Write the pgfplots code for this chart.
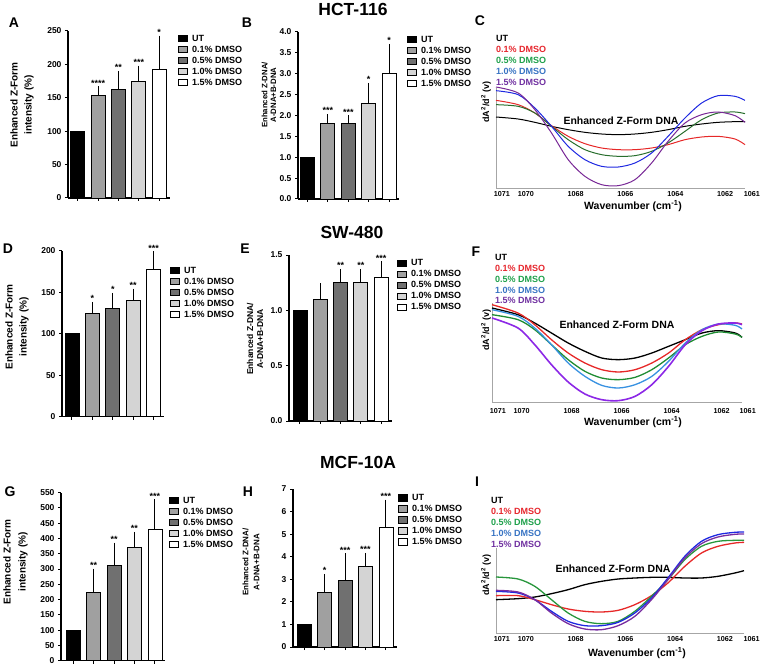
\documentclass[border=0pt]{standalone}
\usepackage{fontspec}
\setmainfont{Liberation Sans}
\usepackage{pgfplots}
\pgfplotsset{compat=1.18}

\definecolor{cA}{RGB}{160,160,160}
\definecolor{cB}{RGB}{112,112,112}
\definecolor{cC}{RGB}{212,212,212}
\definecolor{tred}{RGB}{230,38,45}
\definecolor{tgreen}{RGB}{30,160,75}
\definecolor{tblue}{RGB}{55,115,195}
\definecolor{tpurple}{RGB}{112,48,160}
\definecolor{sred}{RGB}{230,40,40}
\definecolor{sgreenC}{RGB}{40,110,45}
\definecolor{sblueC}{RGB}{30,40,225}
\definecolor{spurpleC}{RGB}{120,40,150}
\definecolor{sgreenF}{RGB}{30,140,50}
\definecolor{sblueF}{RGB}{55,145,225}
\definecolor{spurpleF}{RGB}{140,40,230}
\definecolor{sgreenI}{RGB}{40,150,60}
\definecolor{spurpleI}{RGB}{120,45,160}

\pgfplotsset{
  barax/.style={
    scale only axis, clip=false,
    axis x line*=bottom, axis y line*=left,
    axis line style={black,line width=1.1pt,-},
    tick align=outside, major tick length=3pt,
    tick style={black,line width=1pt},
    xtick={0,1,2,3,4}, xticklabels={},
    ymin=0,
    tick label style={font=\fontsize{8.5}{9}\selectfont\bfseries},
    /pgf/number format/assume math mode=true,
    legend cell align=left,
    legend style={draw=none, fill=none, anchor=north west, inner sep=0pt, outer sep=0pt,
      font=\fontsize{9}{10}\selectfont\bfseries, row sep=0.8pt, column sep=3.5pt,
      nodes={inner sep=0.8pt, text height=6.8pt, text depth=1.8pt}},
  },
  bar/.style={ybar, bar width=14pt, bar shift=0pt, draw=black, line width=0.9pt, fill=#1,
    legend image code/.code={\draw[black,line width=0.8pt,fill=#1] (0pt,-3pt) rectangle (9pt,3.5pt);},
    error bars/y dir=plus, error bars/y explicit,
    error bars/error bar style={black,line width=1pt},
    error bars/error mark options={black,line width=1pt,mark size=3.5pt}},
  specax/.style={
    scale only axis, clip=false,
    axis x line*=bottom, axis y line*=left,
    axis line style={black!35,line width=0.8pt,-},
    x dir=reverse, ymin=0, ytick=\empty,
    major tick length=0pt,
    tick label style={font=\fontsize{7.2}{8}\selectfont\bfseries},
    every axis plot/.append style={smooth, line width=1pt, no marks},
  },
}
\newcommand{\sig}[3]{\node[font=\fontsize{9}{9}\selectfont\bfseries, anchor=south, inner sep=0pt, yshift=3.5pt] at (axis cs:#1,#2) {#3};}
\newcommand{\lab}{\fontsize{14}{14}\selectfont\bfseries}

\begin{document}
\begin{tikzpicture}
\path[use as bounding box] (0pt,0pt) rectangle (760pt,665pt);

% ---------------- A ----------------
\begin{axis}[barax, at={(68pt,467pt)}, anchor=south west, width=102pt, height=167pt,
  xmin=-0.49, xmax=4.54, ymax=250, ytick={0,50,...,250},
  legend style={at={(axis description cs:1.078,0.984)}}]
\addplot[bar=black, error bars/y dir=none] coordinates {(0,100)};
\addplot[bar=cA] coordinates {(1,153) +- (0,9)};
\addplot[bar=cB] coordinates {(2,162) +- (0,23)};
\addplot[bar=cC] coordinates {(3,174) +- (0,19)};
\addplot[bar=white] coordinates {(4,193) +- (0,45)};
\legend{UT,0.1\% DMSO,0.5\% DMSO,1.0\% DMSO,1.5\% DMSO}
\sig{1}{162}{****}\sig{2}{185}{**}\sig{3}{193}{***}\sig{4}{238}{*}
\end{axis}

% ---------------- B ----------------
\begin{axis}[barax, at={(298pt,466pt)}, anchor=south west, width=101pt, height=167pt,
  xmin=-0.47, xmax=4.49, ymax=4, ytick={0,0.5,...,4},
  yticklabel style={/pgf/number format/.cd, fixed, fixed zerofill, precision=1},
  legend style={at={(axis description cs:1.079,0.984)}}]
\addplot[bar=black, error bars/y dir=none] coordinates {(0,1.0)};
\addplot[bar=cA] coordinates {(1,1.8) +- (0,0.15)};
\addplot[bar=cB] coordinates {(2,1.8) +- (0,0.12)};
\addplot[bar=cC] coordinates {(3,2.3) +- (0,0.4)};
\addplot[bar=white] coordinates {(4,3.0) +- (0,0.63)};
\legend{UT,0.1\% DMSO,0.5\% DMSO,1.0\% DMSO,1.5\% DMSO}
\sig{1}{1.95}{***}\sig{2}{1.92}{***}\sig{3}{2.7}{*}\sig{4}{3.63}{*}
\end{axis}

% ---------------- C ----------------
\begin{axis}[specax, at={(496pt,477pt)}, anchor=south west, width=249pt, height=100pt,
  xmin=1061.2, xmax=1071.2, ymax=300,
  xtick={1070.96,1070,1068,1066,1064,1062}, xticklabels={1071,1070,1068,1066,1064,1062}]
\addplot[black] coordinates {(1071.20,213)(1070.31,207)(1069.64,197)(1068.97,185)(1068.30,175)(1067.63,167)(1066.96,162)(1066.29,160)(1065.62,162)(1064.95,167)(1064.29,175)(1063.61,185)(1062.94,192)(1062.28,197)(1061.60,199)(1061.20,199)};
\addplot[sred] coordinates {(1071.20,263)(1070.31,250)(1069.64,225)(1068.97,187)(1068.30,155)(1067.63,133)(1066.96,120)(1066.29,115)(1065.62,115)(1064.95,120)(1064.29,130)(1063.61,145)(1062.94,153)(1062.28,155)(1061.60,147)(1061.20,130)};
\addplot[sgreenC] coordinates {(1071.20,250)(1070.31,245)(1069.64,225)(1068.97,185)(1068.30,145)(1067.63,115)(1066.96,100)(1066.29,95)(1065.62,97)(1064.95,110)(1064.29,135)(1063.61,170)(1062.94,205)(1062.28,225)(1061.60,228)(1061.20,223)};
\addplot[sblueC] coordinates {(1071.20,292)(1070.31,280)(1069.64,240)(1068.97,185)(1068.30,125)(1067.63,85)(1066.96,65)(1066.29,63)(1065.62,75)(1064.95,105)(1064.29,155)(1063.61,210)(1062.94,255)(1062.28,277)(1061.60,275)(1061.20,263)};
\addplot[spurpleC] coordinates {(1071.20,303)(1070.31,285)(1069.64,235)(1068.97,165)(1068.30,85)(1067.63,35)(1066.96,10)(1066.29,7)(1065.62,25)(1064.95,75)(1064.29,140)(1063.61,195)(1062.94,220)(1062.28,228)(1061.60,217)(1061.20,197)};
\node[anchor=north, font=\fontsize{7.2}{8}\selectfont\bfseries] at (axis cs:1060.92,0) {1061};
\end{axis}

% ---------------- D ----------------
\begin{axis}[barax, at={(62pt,248.3pt)}, anchor=south west, width=102pt, height=166pt,
  xmin=-0.49, xmax=4.51, ymax=200, ytick={0,50,...,200},
  legend style={at={(axis description cs:1.059,0.910)}}]
\addplot[bar=black, error bars/y dir=none] coordinates {(0,100)};
\addplot[bar=cA] coordinates {(1,125) +- (0,9)};
\addplot[bar=cB] coordinates {(2,130) +- (0,15)};
\addplot[bar=cC] coordinates {(3,140) +- (0,10)};
\addplot[bar=white] coordinates {(4,177) +- (0,18)};
\legend{UT,0.1\% DMSO,0.5\% DMSO,1.0\% DMSO,1.5\% DMSO}
\sig{1}{134}{*}\sig{2}{145}{*}\sig{3}{150}{**}\sig{4}{195}{***}
\end{axis}

% ---------------- E ----------------
\begin{axis}[barax, at={(289pt,244pt)}, anchor=south west, width=103pt, height=166pt,
  xmin=-0.54, xmax=4.54, ymax=1.5, ytick={0,0.5,...,1.5},
  yticklabel style={/pgf/number format/.cd, fixed, fixed zerofill, precision=1},
  legend style={at={(axis description cs:1.049,0.980)}}]
\addplot[bar=black, error bars/y dir=none] coordinates {(0,1.0)};
\addplot[bar=cA] coordinates {(1,1.10) +- (0,0.115)};
\addplot[bar=cB] coordinates {(2,1.256) +- (0,0.087)};
\addplot[bar=cC] coordinates {(3,1.256) +- (0,0.087)};
\addplot[bar=white] coordinates {(4,1.295) +- (0,0.115)};
\legend{UT,0.1\% DMSO,0.5\% DMSO,1.0\% DMSO,1.5\% DMSO}
\sig{2}{1.343}{**}\sig{3}{1.343}{**}\sig{4}{1.41}{***}
\end{axis}

% ---------------- F ----------------
\begin{axis}[specax, at={(492pt,263pt)}, anchor=south west, width=250pt, height=99pt,
  xmin=1061.18, xmax=1071.19, ymax=297,
  xticklabel style={yshift=-3pt},
  xtick={1070.95,1070,1068,1066,1064,1062}, xticklabels={1071,1070,1068,1066,1064,1062},
  every axis plot/.append style={line width=1.3pt}]
\addplot[black] coordinates {(1071.19,282)(1070.15,262)(1069.48,237)(1068.81,207)(1068.14,177)(1067.47,152)(1066.80,132)(1066.13,127)(1065.46,132)(1064.79,147)(1064.12,167)(1063.45,187)(1062.78,207)(1062.12,214)(1061.45,207)(1061.18,194)};
\addplot[sred] coordinates {(1071.19,292)(1070.15,267)(1069.48,232)(1068.81,187)(1068.14,147)(1067.47,117)(1066.80,97)(1066.13,90)(1065.46,97)(1064.79,117)(1064.12,147)(1063.45,187)(1062.78,217)(1062.12,232)(1061.45,237)(1061.18,234)};
\addplot[sgreenF] coordinates {(1071.19,262)(1070.15,247)(1069.48,217)(1068.81,172)(1068.14,127)(1067.47,92)(1066.80,72)(1066.13,67)(1065.46,74)(1064.79,97)(1064.12,132)(1063.45,172)(1062.78,197)(1062.12,210)(1061.45,204)(1061.18,194)};
\addplot[sblueF] coordinates {(1071.19,277)(1070.15,257)(1069.48,222)(1068.81,172)(1068.14,117)(1067.47,77)(1066.80,50)(1066.13,42)(1065.46,52)(1064.79,77)(1064.12,122)(1063.45,177)(1062.78,217)(1062.12,234)(1061.45,230)(1061.18,219)};
\addplot[spurpleF, line width=1.6pt] coordinates {(1071.19,252)(1070.15,222)(1069.48,172)(1068.81,112)(1068.14,60)(1067.47,24)(1066.80,7)(1066.13,4)(1065.46,17)(1064.79,52)(1064.12,107)(1063.45,172)(1062.78,214)(1062.12,234)(1061.45,237)(1061.18,232)};
\node[anchor=north, yshift=-3pt, font=\fontsize{7.2}{8}\selectfont\bfseries] at (axis cs:1060.95,0) {1061};
\end{axis}

% ---------------- G ----------------
\begin{axis}[barax, at={(61pt,4.3pt)}, anchor=south west, width=104pt, height=168pt,
  xmin=-0.59, xmax=4.49, ymax=550, ytick={0,50,...,550},
  legend style={at={(axis description cs:1.038,0.982)}}]
\addplot[bar=black, error bars/y dir=none] coordinates {(0,100)};
\addplot[bar=cA] coordinates {(1,223) +- (0,67)};
\addplot[bar=cB] coordinates {(2,312) +- (0,63)};
\addplot[bar=cC] coordinates {(3,370) +- (0,40)};
\addplot[bar=white] coordinates {(4,430) +- (0,87)};
\legend{UT,0.1\% DMSO,0.5\% DMSO,1.0\% DMSO,1.5\% DMSO}
\sig{1}{290}{**}\sig{2}{375}{**}\sig{3}{410}{**}\sig{4}{517}{***}
\end{axis}

% ---------------- H ----------------
\begin{axis}[barax, at={(293pt,18pt)}, anchor=south west, width=104pt, height=158pt,
  xmin=-0.54, xmax=4.54, ymax=7, ytick={0,1,...,7},
  legend style={at={(axis description cs:1.010,0.975)}}]
\addplot[bar=black, error bars/y dir=none] coordinates {(0,1.0)};
\addplot[bar=cA] coordinates {(1,2.4) +- (0,0.68)};
\addplot[bar=cB] coordinates {(2,2.97) +- (0,1.03)};
\addplot[bar=cC] coordinates {(3,3.55) +- (0,0.47)};
\addplot[bar=white] coordinates {(4,5.3) +- (0,1.08)};
\legend{UT,0.1\% DMSO,0.5\% DMSO,1.0\% DMSO,1.5\% DMSO}
\sig{1}{3.08}{*}\sig{2}{4.0}{***}\sig{3}{4.02}{***}\sig{4}{6.38}{***}
\end{axis}

% ---------------- I ----------------
\begin{axis}[specax, at={(496pt,32pt)}, anchor=south west, width=248pt, height=85pt,
  xmin=1061.23, xmax=1071.2, ymax=255,
  xtick={1070.96,1070,1068,1066,1064,1062}, xticklabels={1071,1070,1068,1066,1064,1062},
  every axis plot/.append style={line width=1.3pt}]
\addplot[black] coordinates {(1071.20,100)(1070.31,103)(1069.64,108)(1068.97,118)(1068.30,130)(1067.63,145)(1066.96,155)(1066.29,162)(1065.62,165)(1064.95,167)(1064.29,167)(1063.61,165)(1062.94,165)(1062.28,170)(1061.60,180)(1061.23,187)};
\addplot[sred] coordinates {(1071.20,112)(1070.31,112)(1069.64,100)(1068.97,85)(1068.30,72)(1067.63,65)(1066.96,63)(1066.29,68)(1065.62,85)(1064.95,112)(1064.29,150)(1063.61,200)(1062.94,240)(1062.28,260)(1061.60,270)(1061.23,272)};
\addplot[sgreenI] coordinates {(1071.20,168)(1070.31,162)(1069.64,140)(1068.97,100)(1068.30,60)(1067.63,35)(1066.96,28)(1066.29,35)(1065.62,65)(1064.95,110)(1064.29,160)(1063.61,220)(1062.94,260)(1062.28,275)(1061.60,278)(1061.23,278)};
\addplot[sblueC] coordinates {(1071.20,125)(1070.31,120)(1069.64,100)(1068.97,65)(1068.30,35)(1067.63,22)(1066.96,22)(1066.29,32)(1065.62,60)(1064.95,105)(1064.29,165)(1063.61,230)(1062.94,275)(1062.28,295)(1061.60,302)(1061.23,303)};
\addplot[spurpleI] coordinates {(1071.20,128)(1070.31,123)(1069.64,100)(1068.97,60)(1068.30,28)(1067.63,12)(1066.96,10)(1066.29,22)(1065.62,50)(1064.95,100)(1064.29,160)(1063.61,225)(1062.94,268)(1062.28,288)(1061.60,296)(1061.23,297)};
\node[anchor=north, font=\fontsize{7.2}{8}\selectfont\bfseries] at (axis cs:1060.92,0) {1061};
\end{axis}

% ---------------- text: titles, letters, labels ----------------
\node[font=\fontsize{17.5}{18}\selectfont\bfseries] at (353pt,656pt) {HCT-116};
\node[font=\fontsize{17.5}{18}\selectfont\bfseries] at (352pt,433pt) {SW-480};
\node[font=\fontsize{17.5}{18}\selectfont\bfseries] at (358pt,203pt) {MCF-10A};

\node[font=\lab] at (14pt,642pt) {A};
\node[font=\lab] at (247pt,642pt) {B};
\node[font=\lab] at (480pt,644pt) {C};
\node[font=\lab] at (8pt,416pt) {D};
\node[font=\lab] at (245pt,416pt) {E};
\node[font=\lab] at (476pt,413pt) {F};
\node[font=\lab] at (10pt,173pt) {G};
\node[font=\lab] at (248pt,173pt) {H};
\node[font=\lab] at (477pt,183pt) {I};

% bar y labels
\node[rotate=90, align=center, font=\fontsize{10}{14}\selectfont\bfseries] at (22pt,560pt) {Enhanced Z-Form\\intensity (\%)};
\node[rotate=90, align=center, font=\fontsize{7.8}{8.8}\selectfont\bfseries] at (269pt,570pt) {Enhanced Z-DNA/\\A-DNA+B-DNA};
\node[rotate=90, align=center, font=\fontsize{10}{14}\selectfont\bfseries] at (17pt,338pt) {Enhanced Z-Form\\intensity (\%)};
\node[rotate=90, align=center, font=\fontsize{8.5}{10}\selectfont\bfseries] at (255pt,326pt) {Enhanced Z-DNA/\\A-DNA+B-DNA};
\node[rotate=90, align=center, font=\fontsize{10}{15}\selectfont\bfseries] at (15.5pt,103pt) {Enhanced Z-Form\\intensity (\%)};
\node[rotate=90, align=center, font=\fontsize{8}{11}\selectfont\bfseries] at (251pt,103pt) {Enhanced Z-DNA/\\A-DNA+B-DNA};

% spectra y labels
\node[rotate=90, font=\fontsize{9}{10}\selectfont\bfseries] at (486pt,563pt) {dA\textsuperscript{2}/d\textsuperscript{2} (v)};
\node[rotate=90, font=\fontsize{9}{10}\selectfont\bfseries] at (486pt,335pt) {dA\textsuperscript{2}/d\textsuperscript{2} (v)};
\node[rotate=90, font=\fontsize{9}{10}\selectfont\bfseries] at (486pt,90pt) {dA\textsuperscript{2}/d\textsuperscript{2} (v)};

% wavenumber labels
\node[font=\fontsize{10.5}{11}\selectfont\bfseries] at (633pt,459pt) {Wavenumber (cm\textsuperscript{-1})};
\node[font=\fontsize{10.5}{11}\selectfont\bfseries] at (633pt,243pt) {Wavenumber (cm\textsuperscript{-1})};
\node[font=\fontsize{10.5}{11}\selectfont\bfseries] at (637pt,12pt) {Wavenumber (cm\textsuperscript{-1})};

% Enhanced Z-Form DNA
\node[font=\fontsize{10.5}{11}\selectfont\bfseries] at (621pt,544pt) {Enhanced Z-Form DNA};
\node[font=\fontsize{10.5}{11}\selectfont\bfseries] at (617pt,340pt) {Enhanced Z-Form DNA};
\node[font=\fontsize{10.5}{11}\selectfont\bfseries] at (613pt,96pt) {Enhanced Z-Form DNA};

% spectra legends
\begin{scope}[every node/.style={anchor=west, inner sep=0pt, font=\fontsize{9}{9}\selectfont\bfseries}]
\node at (496pt,627pt) {UT};
\node[text=tred] at (496pt,616pt) {0.1\% DMSO};
\node[text=tgreen] at (496pt,605pt) {0.5\% DMSO};
\node[text=tblue] at (496pt,594pt) {1.0\% DMSO};
\node[text=tpurple] at (496pt,583pt) {1.5\% DMSO};
\node at (495pt,408pt) {UT};
\node[text=tred] at (495pt,397pt) {0.1\% DMSO};
\node[text=tgreen] at (495pt,386pt) {0.5\% DMSO};
\node[text=tblue] at (495pt,375pt) {1.0\% DMSO};
\node[text=tpurple] at (495pt,365pt) {1.5\% DMSO};
\node at (491pt,165pt) {UT};
\node[text=tred] at (491pt,154pt) {0.1\% DMSO};
\node[text=tgreen] at (491pt,143pt) {0.5\% DMSO};
\node[text=tblue] at (491pt,132pt) {1.0\% DMSO};
\node[text=tpurple] at (491pt,121pt) {1.5\% DMSO};
\end{scope}
\end{tikzpicture}
\end{document}
